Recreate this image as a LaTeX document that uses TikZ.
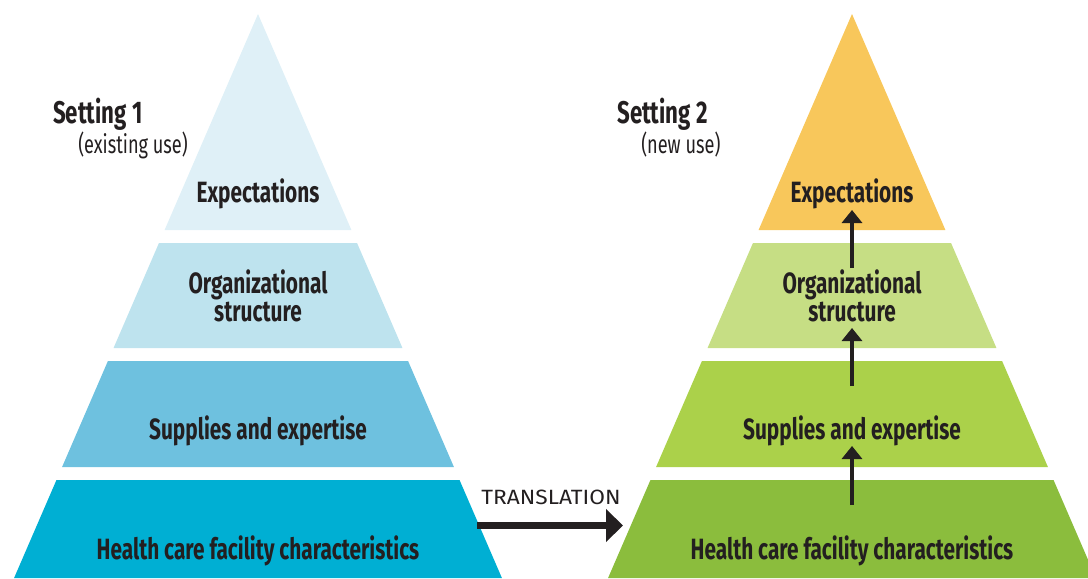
\documentclass[tikz,border=0pt]{standalone}
\usepackage{fontspec}
\setmainfont{Fira Sans}
\newfontfamily\narrowfont{Fira Sans}[FakeStretch=0.71]
\newfontfamily\widefont{Fira Sans}[FakeStretch=1.1]
\usetikzlibrary{arrows.meta}

\definecolor{ink}{HTML}{231F20}
% first setting, blue shades from top to bottom
\definecolor{blue_a}{HTML}{DFF0F7}
\definecolor{blue_b}{HTML}{BEE3EE}
\definecolor{blue_c}{HTML}{6EC1DF}
\definecolor{blue_d}{HTML}{00AFD3}
% second setting
\definecolor{green_a}{HTML}{F8C75B}
\definecolor{green_b}{HTML}{C6DE84}
\definecolor{green_c}{HTML}{ABD14A}
\definecolor{green_d}{HTML}{8BBD3D}

\tikzstyle{lvl}=[font=\narrowfont\bfseries\fontsize{22}{21}\selectfont,
  text=ink,anchor=base,align=center,inner sep=0pt]
\tikzstyle{ttl}=[font=\narrowfont\bfseries\fontsize{23.5}{24}\selectfont,
  text=ink,anchor=base west,inner sep=0pt]
\tikzstyle{sub}=[font=\narrowfont\fontsize{19.2}{21}\selectfont,
  text=ink,anchor=base west,inner sep=0pt]
\tikzstyle{up}=[draw=ink,line width=2.5pt,
  -{Triangle[width=15pt,length=9.75pt]}]

\begin{document}
\begin{tikzpicture}[x=0.75pt,y=-0.75pt]
        \useasboundingbox (0,0) rectangle (1088,578);
        \clip (0,0) rectangle (1088,578);
        % the two pyramids, one band at a time
        \foreach \cx/\p in {258/blue, 852/green} {
          \foreach \t/\b/\c in {14/230/a, 243/348/b, 361/467/c, 480/578/d} {
            \fill[\p_\c] ({\cx-0.4325*(\t-14)},\t) -- ({\cx+0.4325*(\t-14)},\t)
              -- ({\cx+0.4325*(\b-14)},\b) -- ({\cx-0.4325*(\b-14)},\b) -- cycle;
          }
        }
        \node[style=ttl] (set1) at (53,123) {Setting 1};
        \node[style=sub] (use1) at (78,153) {(existing use)};
        \node[style=ttl] (set2) at (617,123) {Setting 2};
        \node[style=sub] (use2) at (641,153) {(new use)};
        \node[style=lvl] (exp1) at (258,202) {Expectations};
        \node[style=lvl] (org1) at (258,321) {Organizational\\structure};
        \node[style=lvl] (sup1) at (258,439) {Supplies and expertise};
        \node[style=lvl] (hcf1) at (258,559) {Health care facility characteristics};
        \node[style=lvl] (exp2) at (852,202) {Expectations};
        \node[style=lvl] (org2) at (852,321) {Organizational\\structure};
        \node[style=lvl] (sup2) at (852,439) {Supplies and expertise};
        \node[style=lvl] (hcf2) at (852,559) {Health care facility characteristics};
        \node[font=\widefont\fontsize{15.5}{16}\selectfont,text=ink,anchor=base,inner sep=0pt]
          (trn) at (551,504) {TRANSLATION};
        \coordinate (from) at (477,525.5);
        \coordinate (to) at (623,525.5);
        \coordinate (up1a) at (852,505);
        \coordinate (up1b) at (852,446);
        \coordinate (up2a) at (852,386);
        \coordinate (up2b) at (852,328);
        \coordinate (up3a) at (852,268);
        \coordinate (up3b) at (852,210);
        \draw[draw=ink,line width=5.25pt,-{Triangle[width=24pt,length=12.75pt]}] (from) to (to);
        \draw[style=up] (up1a) to (up1b);
        \draw[style=up] (up2a) to (up2b);
        \draw[style=up] (up3a) to (up3b);
    \end{tikzpicture}
\end{document}
